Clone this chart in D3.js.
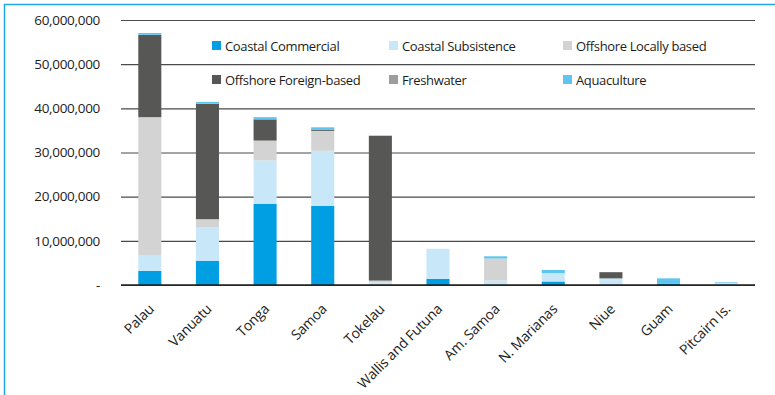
<!DOCTYPE html>
<html>
<head>
<meta charset="utf-8">
<script src="https://cdn.jsdelivr.net/npm/d3@7"></script>
<style>
  html, body { margin: 0; padding: 0; background: #fff; }
  svg { display: block; font-family: "Open Sans", "Noto Sans", sans-serif; }
</style>
</head>
<body>
<svg id="chart" width="775" height="395"></svg>
<script>
// Value of fisheries production by sector (USD)
const countries = ["Palau", "Vanuatu", "Tonga", "Samoa", "Tokelau", "Wallis and Futuna",
  "Am. Samoa", "N. Marianas", "Niue", "Guam", "Pitcairn Is."];

const sectors = ["Coastal Commercial", "Coastal Subsistence", "Offshore Locally based",
  "Offshore Foreign-based", "Freshwater", "Aquaculture"];

const coastalCommercial   = [3200000, 5500000, 18400000, 17900000, 0, 1400000, 0, 800000, 0, 250000, 0];
const coastalSubsistence  = [3600000, 7600000, 9800000, 12500000, 600000, 6800000, 1000000, 1900000, 1500000, 0, 450000];
const offshoreLocal       = [31200000, 1800000, 4500000, 4500000, 400000, 0, 5000000, 0, 0, 0, 0];
const offshoreForeign     = [18600000, 26100000, 4800000, 300000, 32800000, 0, 0, 0, 1400000, 0, 0];
const freshwater          = [50000, 50000, 0, 0, 0, 0, 0, 0, 0, 0, 0];
const aquaculture         = [400000, 400000, 500000, 500000, 0, 0, 500000, 700000, 0, 1250000, 150000];

const yTicks = [0, 10000000, 20000000, 30000000, 40000000, 50000000, 60000000];

const colors = ["#009fe3", "#c8e7f9", "#d3d3d3", "#575756", "#9d9d9c", "#5cc5f1"];

const seriesValues = [coastalCommercial, coastalSubsistence, offshoreLocal,
  offshoreForeign, freshwater, aquaculture];

const rows = countries.map((c, i) => {
  const r = { country: c };
  sectors.forEach((s, k) => { r[s] = seriesValues[k][i]; });
  return r;
});

const svg = d3.select("#chart");

const x = d3.scaleBand().domain(countries).range([121, 755]).paddingInner(0.6).paddingOuter(0.3);
const y = d3.scaleLinear().domain([0, 60000000]).range([285, 20]);

// frame
svg.append("line").attr("x1", 4).attr("x2", 775).attr("y1", 4.5).attr("y2", 4.5)
  .attr("stroke", "#1ea8e2").attr("stroke-width", 1.5);
svg.append("line").attr("x1", 4.5).attr("x2", 4.5).attr("y1", 4).attr("y2", 395)
  .attr("stroke", "#1ea8e2").attr("stroke-width", 1.5);

// gridlines and y labels
const yAxis = d3.axisLeft(y).tickValues(yTicks).tickSize(-(755 - 121))
  .tickFormat(d => d === 0 ? "-" : d3.format(",")(d)).tickPadding(21);
const gy = svg.append("g").attr("transform", "translate(121,0)").call(yAxis);
gy.select(".domain").remove();
gy.selectAll(".tick line").attr("stroke", "#4a4a4a").attr("stroke-width", 1.2);
gy.selectAll(".tick text").attr("fill", "#1d1d1b").style("font-size", "13.5px")
  .style("letter-spacing", "-0.3px")
  .style("font-family", "'Open Sans', sans-serif");

// stacked bars
const stack = d3.stack().keys(sectors);
const layers = stack(rows);
svg.append("g").selectAll("g").data(layers).join("g")
  .attr("fill", (d, i) => colors[i])
  .selectAll("rect").data(d => d).join("rect")
  .attr("x", d => x(d.data.country))
  .attr("width", x.bandwidth())
  .attr("y", d => y(d[1]))
  .attr("height", d => y(d[0]) - y(d[1]));

// baseline
svg.append("line").attr("x1", 121).attr("x2", 755).attr("y1", y(0)).attr("y2", y(0))
  .attr("stroke", "#1d1d1b").attr("stroke-width", 1.5);

// x labels
const xAxis = d3.axisBottom(x).tickSize(0).tickPadding(0);
const gx = svg.append("g").attr("transform", `translate(0,${y(0)})`).call(xAxis);
gx.select(".domain").remove();
gx.selectAll(".tick text")
  .attr("text-anchor", "end")
  .attr("dy", 0)
  .attr("transform", "translate(5,25) rotate(-45)")
  .attr("fill", "#1d1d1b")
  .style("font-size", "14px")
  .style("letter-spacing", "-0.2px")
  .style("font-family", "'Open Sans', sans-serif");

// legend
const legendPos = [[212, 41], [389, 41], [563, 41], [212, 75], [389, 75], [563, 75]];
const lg = svg.append("g").selectAll("g").data(sectors).join("g")
  .attr("transform", (d, i) => `translate(${legendPos[i][0]},${legendPos[i][1]})`);
lg.append("rect").attr("width", 9).attr("height", 9).attr("fill", (d, i) => colors[i]);
lg.append("text").attr("x", 13).attr("y", 9.5).text(d => d)
  .attr("fill", "#1d1d1b").style("font-size", "13px").style("letter-spacing", "-0.35px");
</script>
</body>
</html>
